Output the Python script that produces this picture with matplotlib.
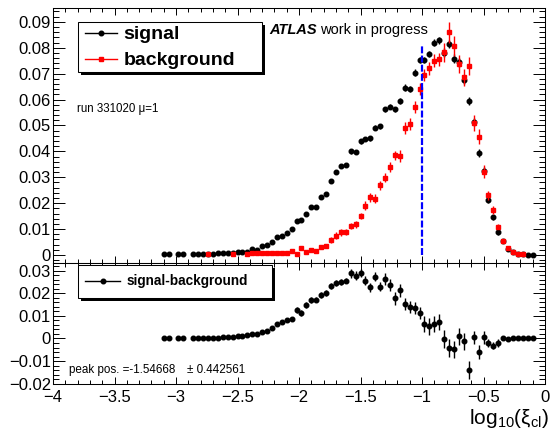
import numpy as np
import matplotlib
matplotlib.use("Agg")
import matplotlib.pyplot as plt
from matplotlib.patches import Rectangle
from matplotlib.lines import Line2D
from matplotlib.ticker import MultipleLocator, FuncFormatter

plt.rcParams['font.family'] = ['Liberation Sans', 'DejaVu Sans']
plt.rcParams['mathtext.fontset'] = 'custom'
plt.rcParams['mathtext.rm'] = 'Liberation Sans'
plt.rcParams['mathtext.it'] = 'Liberation Sans:italic'
plt.rcParams['lines.scale_dashes'] = False

# histogram bins in log10(xi_cl): 76 bins of 0.04, centres -3.10 ... -0.10
bin_first, bin_width, n_bins = -3.10, 0.04, 76
x = np.round(bin_first + bin_width * np.arange(n_bins), 2)

nan = np.nan
signal = [0.0002, 0.0002, nan, 0.0002, 0.0002, nan, 0.0002, 0.0003, 0.0003, 0.0004,
          0.0005, 0.0006, 0.0007, 0.0008, 0.0008, 0.0013, 0.0012, 0.0013, 0.0023, 0.0020,
          0.0035, 0.0039, 0.0052, 0.0069, 0.0075, 0.0084, 0.0100, 0.0132, 0.0136, 0.0159,
          0.0187, 0.0187, 0.0224, 0.0235, 0.0287, 0.0319, 0.0342, 0.0347, 0.0400, 0.0397,
          0.0439, 0.0448, 0.0450, 0.0491, 0.0497, 0.0562, 0.0572, 0.0562, 0.0594, 0.0646,
          0.0642, 0.0704, 0.0751, 0.0754, 0.0775, 0.0820, 0.0828, 0.0780, 0.0814, 0.0758,
          0.0743, 0.0676, 0.0594, 0.0513, 0.0394, 0.0325, 0.0213, 0.0145, 0.0088, 0.0054,
          0.0023, 0.0010, 0.0004, 0.0002, 0.0001, 0.0001]
signal_err = [0.0002, 0.0002, 0.0002, 0.0002, 0.0002, 0.0002, 0.0002, 0.0002, 0.0002, 0.0002,
              0.0002, 0.0002, 0.0002, 0.0002, 0.0002, 0.0002, 0.0002, 0.0002, 0.0004, 0.0004,
              0.0004, 0.0004, 0.0004, 0.0004, 0.0004, 0.0004, 0.0004, 0.0006, 0.0006, 0.0006,
              0.0006, 0.0006, 0.0006, 0.0006, 0.0006, 0.0006, 0.0006, 0.0006, 0.0009, 0.0009,
              0.0009, 0.0009, 0.0009, 0.0009, 0.0009, 0.0009, 0.0009, 0.0009, 0.0012, 0.0012,
              0.0012, 0.0012, 0.0012, 0.0012, 0.0012, 0.0012, 0.0012, 0.0017, 0.0017, 0.0017,
              0.0017, 0.0017, 0.0017, 0.0014, 0.0014, 0.0014, 0.0014, 0.0009, 0.0009, 0.0009,
              0.0003, 0.0003, 0.0003, 0.0003, 0.0003, 0.0003]

background = [nan, nan, nan, nan, nan, nan, nan, nan, nan, 0.0005,
              nan, nan, nan, nan, 0.0005, nan, nan, 0.0005, 0.0006, 0.0006,
              0.0006, 0.0008, 0.0006, 0.0006, 0.0006, 0.0006, 0.0017, 0.0004, 0.0026, 0.0012,
              0.0018, 0.0016, 0.0030, 0.0035, 0.0058, 0.0075, 0.0087, 0.0088, 0.0111, 0.0118,
              0.0152, 0.0191, 0.0223, 0.0217, 0.0269, 0.0299, 0.0339, 0.0385, 0.0382, 0.0491,
              0.0504, 0.0570, 0.0641, 0.0695, 0.0721, 0.0750, 0.0756, 0.0782, 0.0859, 0.0808,
              0.0738, 0.0685, 0.0730, 0.0508, 0.0456, 0.0321, 0.0230, 0.0174, 0.0110, 0.0054,
              0.0026, 0.0010, 0.0004, 0.0002, nan, nan]
background_err = [0.0003, 0.0003, 0.0003, 0.0003, 0.0003, 0.0003, 0.0003, 0.0003, 0.0003, 0.0003,
                  0.0003, 0.0003, 0.0003, 0.0003, 0.0003, 0.0003, 0.0003, 0.0003, 0.0003, 0.0003,
                  0.0003, 0.0003, 0.0003, 0.0003, 0.0003, 0.0003, 0.0006, 0.0006, 0.0006, 0.0006,
                  0.0006, 0.0006, 0.0006, 0.0006, 0.0012, 0.0012, 0.0012, 0.0012, 0.0012, 0.0012,
                  0.0012, 0.0018, 0.0018, 0.0018, 0.0018, 0.0018, 0.0018, 0.0018, 0.0023, 0.0023,
                  0.0023, 0.0023, 0.0023, 0.0023, 0.0025, 0.0025, 0.0025, 0.0038, 0.0042, 0.0039,
                  0.0035, 0.0034, 0.0035, 0.0031, 0.0029, 0.0025, 0.0018, 0.0016, 0.0010, 0.0005,
                  0.0005, 0.0005, 0.0005, 0.0005, 0.0005, 0.0005]

difference = [0.0, 0.0, nan, 0.0, 0.0, nan, 0.0, 0.0001, 0.0002, 0.0002,
              0.0003, 0.0004, 0.0005, 0.0006, 0.0005, 0.0013, 0.0013, 0.0015, 0.0021, 0.0018,
              0.0029, 0.0033, 0.0048, 0.0066, 0.0072, 0.0082, 0.0084, 0.0127, 0.0112, 0.0149,
              0.0168, 0.0172, 0.0192, 0.0200, 0.0230, 0.0245, 0.0248, 0.0256, 0.0288, 0.0277,
              0.0289, 0.0256, 0.0226, 0.0273, 0.0229, 0.0262, 0.0236, 0.0177, 0.0212, 0.0153,
              0.0138, 0.0133, 0.0112, 0.0065, 0.0053, 0.0065, 0.0072, -0.0002, -0.0043, -0.0048,
              0.0010, -0.0013, -0.0141, 0.0005, -0.0060, 0.0005, -0.0019, -0.0031, -0.0019, 0.0,
              -0.0001, 0.0, 0.0, 0.0, 0.0, 0.0]
difference_err = [0.0003, 0.0003, 0.0003, 0.0003, 0.0003, 0.0003, 0.0003, 0.0003, 0.0003, 0.0003,
                  0.0003, 0.0003, 0.0003, 0.0003, 0.0003, 0.0003, 0.0003, 0.0003, 0.0008, 0.0008,
                  0.0008, 0.0008, 0.0008, 0.0008, 0.0008, 0.0008, 0.0008, 0.0013, 0.0013, 0.0013,
                  0.0013, 0.0013, 0.0013, 0.0013, 0.0013, 0.0013, 0.0013, 0.0013, 0.0019, 0.0019,
                  0.0019, 0.0019, 0.0021, 0.0021, 0.0021, 0.0027, 0.0027, 0.0028, 0.0027, 0.0027,
                  0.0027, 0.0027, 0.0027, 0.0035, 0.0036, 0.0036, 0.0036, 0.0039, 0.0039, 0.0039,
                  0.0038, 0.0038, 0.0040, 0.0030, 0.0030, 0.0029, 0.0017, 0.0017, 0.0017, 0.0004,
                  0.0004, 0.0004, 0.0004, 0.0004, 0.0004, 0.0004]

peak_line_x = -1.0
peak_line_top = 0.0807
peak_pos, peak_pos_err = -1.54668, 0.442561
run_label = 'run 331020 \u03bc=1'

W, H = 551, 434


def fx(px):
    return px / W


def fy(py):
    return 1 - py / H


def fmt(v, pos):
    return ('%g' % round(v, 6)).replace('-', '\u2212')


fig = plt.figure(figsize=(W / 100, H / 100), dpi=100)
ax1 = fig.add_axes([fx(53), fy(263.3), (545 - 53) / W, (263.3 - 8.3) / H])
ax2 = fig.add_axes([fx(53), fy(384), (545 - 53) / W, (384 - 263.3) / H])

ax1.errorbar(x, signal, yerr=signal_err, fmt='o', color='black', ms=3.3,
             elinewidth=1, capsize=0, zorder=3)
ax1.errorbar(x, background, yerr=background_err, fmt='s', color='red', ms=3.2,
             elinewidth=1, capsize=0, zorder=4)
ax1.plot([peak_line_x, peak_line_x], [0, peak_line_top], color='blue', lw=1.6,
         dashes=(5, 1.6), zorder=5)
ax1.set_ylim(-0.0032, 0.0952)

ax2.errorbar(x, difference, yerr=difference_err, fmt='o', color='black', ms=3.3,
             elinewidth=1, capsize=0)
ax2.set_ylim(-0.0201, 0.0332)

for ax in (ax1, ax2):
    ax.set_xlim(-4, 0)
    ax.xaxis.set_major_locator(MultipleLocator(0.5))
    ax.xaxis.set_minor_locator(MultipleLocator(0.1))
    ax.yaxis.set_major_locator(MultipleLocator(0.01))
    ax.yaxis.set_minor_locator(MultipleLocator(0.002))
    ax.xaxis.set_major_formatter(FuncFormatter(fmt))
    ax.yaxis.set_major_formatter(FuncFormatter(fmt))
    ax.tick_params(which='both', direction='in', top=True, right=True,
                   labelsize=12, width=0.7, pad=1.5)
    ax.tick_params(axis='x', which='major', length=4.8)
    ax.tick_params(axis='x', which='minor', length=2.6)
    ax.tick_params(axis='y', which='major', length=8.4)
    ax.tick_params(axis='y', which='minor', length=4.2)
    for s in ax.spines.values():
        s.set_linewidth(0.75)
ax1.tick_params(labelbottom=False)
ax2.tick_params(axis='x', pad=4)


def legend_box(l, t, r, b):
    fig.add_artist(Rectangle((fx(l + 3), fy(b + 3)), (r - l) / W, (b - t) / H,
                             transform=fig.transFigure, facecolor='black',
                             edgecolor='none', zorder=10))
    fig.add_artist(Rectangle((fx(l), fy(b)), (r - l) / W, (b - t) / H,
                             transform=fig.transFigure, facecolor='white',
                             edgecolor='black', lw=0.75, zorder=11))


def legend_entry(x0, x1, y, color, marker, ms):
    fig.add_artist(Line2D([fx(x0), fx(x1)], [fy(y), fy(y)], color=color, lw=1,
                          transform=fig.transFigure, zorder=12))
    fig.add_artist(Line2D([fx((x0 + x1) / 2)], [fy(y)], color=color, marker=marker,
                          ms=ms, lw=0, transform=fig.transFigure, zorder=12))


# upper legend
legend_box(78.3, 21.7, 261.7, 71.7)
legend_entry(85, 117, 33.3, 'black', 'o', 3.3)
legend_entry(85, 117, 59.3, 'red', 's', 3.2)
fig.text(fx(123.3), fy(39.3), 'signal', fontsize=14, fontweight='bold',
         va='baseline', zorder=13)
fig.text(fx(123.3), fy(65), 'background', fontsize=14, fontweight='bold',
         va='baseline', zorder=13)

# lower legend
legend_box(78.3, 265, 272.3, 298.3)
legend_entry(85, 120, 281, 'black', 'o', 3.3)
fig.text(fx(126.7), fy(285.5), 'signal-background', fontsize=9.8, fontweight='bold',
         va='baseline', zorder=13)

fig.text(fx(269.3), fy(34.3), 'ATLAS', fontsize=10.5, fontweight='bold',
         fontstyle='italic', va='baseline')
fig.text(fx(320), fy(34.3), 'work in progress', fontsize=10.5, va='baseline')
fig.text(fx(76.7), fy(112.3), run_label, fontsize=8.3, va='baseline')
fig.text(fx(69.3), fy(372.7), 'peak pos. =%g' % peak_pos, fontsize=8.4, va='baseline')
fig.text(fx(186.7), fy(372.7), '\u00b1 %g' % peak_pos_err, fontsize=8.4, va='baseline')

fig.text(fx(549), fy(424.3), r'log$_{\mathrm{10}}$(ξ$_{\mathrm{cl}}$)', fontsize=15,
         ha='right', va='baseline')

fig.savefig('out.png', dpi=100)
